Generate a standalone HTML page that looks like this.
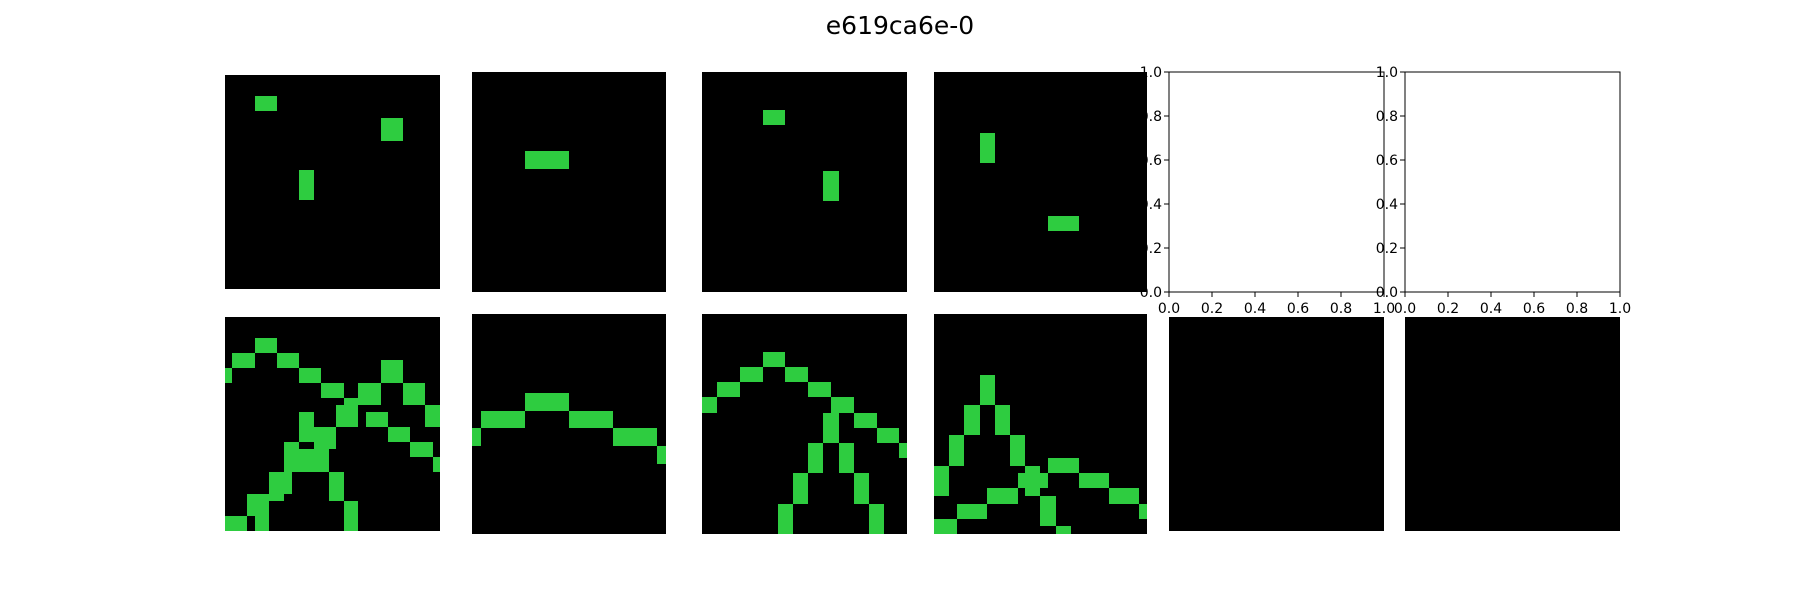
<!DOCTYPE html>
<html><head><meta charset="utf-8"><style>
html,body{margin:0;padding:0;background:#fff;width:1800px;height:600px;overflow:hidden}
svg{display:block;font-family:"DejaVu Sans","Liberation Sans",sans-serif}
</style></head><body>
<svg id="fig" width="1800" height="600" viewBox="0 0 1800 600">
<rect width="1800" height="600" fill="#fff"/>
<text x="900" y="34" text-anchor="middle" font-size="25" fill="#000">e619ca6e-0</text>
</svg>
<script>
const panelNames = ['input-1','input-2','input-3','input-4','output-1','output-2','output-3','output-4','output-5','output-6'];
const cellsTop1 = [[165,138,231,183],[543,204,609,273],[297,360,342,450]];
const cellsTop2 = [[975,303,1107,357]];
const cellsTop3 = [[249,180,315,225],[429,363,477,453]];
const cellsTop4 = [[900,249,945,339],[1104,498,1197,543]];
const cellsBot1 = [[165,114,231,159],[96,159,165,204],[231,159,297,204],[75,204,96,249],[297,204,363,249],[543,180,609,249],[363,249,432,294],[474,249,543,315],[609,249,675,315],[432,294,498,315],[408,315,474,381],[498,336,564,381],[675,315,720,381],[297,336,342,381],[297,381,408,426],[342,426,408,447],[252,426,297,447],[252,447,387,516],[564,381,630,426],[630,426,699,471],[699,471,720,516],[207,516,276,582],[387,516,432,603],[141,582,252,603],[141,603,207,648],[432,603,474,693],[75,648,141,693],[165,648,207,693]];
const cellsBot2 = [[975,279,1107,333],[843,333,975,384],[1107,333,1239,384],[816,384,843,438],[1239,384,1371,438],[1371,438,1398,492]];
const cellsBot3 = [[249,156,315,201],[180,201,249,246],[315,201,384,246],[111,246,180,291],[384,246,453,291],[66,291,111,339],[453,291,522,339],[429,339,477,429],[522,339,591,384],[591,384,657,429],[657,429,681,474],[384,429,429,519],[477,429,522,519],[339,519,384,612],[522,519,567,612],[294,612,339,702],[567,612,612,702]];
const cellsBot4 = [[900,225,945,315],[852,315,900,405],[945,315,990,405],[807,405,852,498],[990,405,1035,498],[762,498,807,588],[1035,498,1080,519],[1014,519,1104,564],[1104,474,1197,519],[1197,519,1287,564],[1287,564,1377,612],[1377,612,1401,657],[1035,564,1080,588],[1080,588,1128,678],[1128,678,1173,702],[921,564,1014,612],[831,612,921,657],[762,657,831,702]];
const tickLabels = ['0.0','0.2','0.4','0.6','0.8','1.0'];
const tickValues = [0,0.2,0.4,0.6,0.8,1.0];

const NS='http://www.w3.org/2000/svg';
const svg=document.getElementById('fig');
function mk(tag,attrs,parent){const e=document.createElementNS(NS,tag);for(const k in attrs)e.setAttribute(k,attrs[k]);(parent||svg).appendChild(e);return e;}

const panels=[
 [225,75,440,289,75,75,cellsTop1],
 [472,72,666,292,816,66,cellsTop2],
 [702,72,907,292,66,66,cellsTop3],
 [934,72,1147,292,762,66,cellsTop4],
 [225,317,440,531,75,51,cellsBot1],
 [472,314,666,534,816,42,cellsBot2],
 [702,314,907,534,66,42,cellsBot3],
 [934,314,1147,534,762,42,cellsBot4],
 [1169,317,1384,531,0,0,[]],
 [1405,317,1620,531,0,0,[]]
];
panels.forEach((p,i)=>{
  const g=mk('g',{});
  
  
  mk('rect',{x:p[0],y:p[1],width:p[2]-p[0],height:p[3]-p[1],fill:'#000'},g);
  p[6].forEach(c=>{
    const r=mk('rect',{x:p[0]+(c[0]-p[4])/3,y:p[1]+(c[1]-p[5])/3,width:(c[2]-c[0])/3,height:(c[3]-c[1])/3,fill:'#2ecc40'},g);
    
    
  });
});

const emptyAxes=[[1169,72,1384,292],[1405,72,1620,292]];
emptyAxes.forEach((a,i)=>{
  const g=mk('g',{});
  
  
  const w=a[2]-a[0],h=a[3]-a[1];
  const xs=v=>a[0]+v*w, ys=v=>a[3]-v*h;
  tickValues.forEach((v,j)=>{
    mk('line',{x1:xs(v),y1:a[3],x2:xs(v),y2:a[3]+5,stroke:'#000','stroke-width':1},g);
    const tx=mk('text',{x:xs(v),y:a[3]+21,'text-anchor':'middle','font-size':14,fill:'#000'},g);
    tx.textContent=tickLabels[j];
    
    
    mk('line',{x1:a[0]-5,y1:ys(v),x2:a[0],y2:ys(v),stroke:'#000','stroke-width':1},g);
    const ty=mk('text',{x:a[0]-7,y:ys(v)+5,'text-anchor':'end','font-size':14,fill:'#000'},g);
    ty.textContent=tickLabels[j];
    
    
  });
  mk('rect',{x:a[0],y:a[1],width:w,height:h,fill:'none',stroke:'#000','stroke-width':1},g);
});
</script>
</body></html>
